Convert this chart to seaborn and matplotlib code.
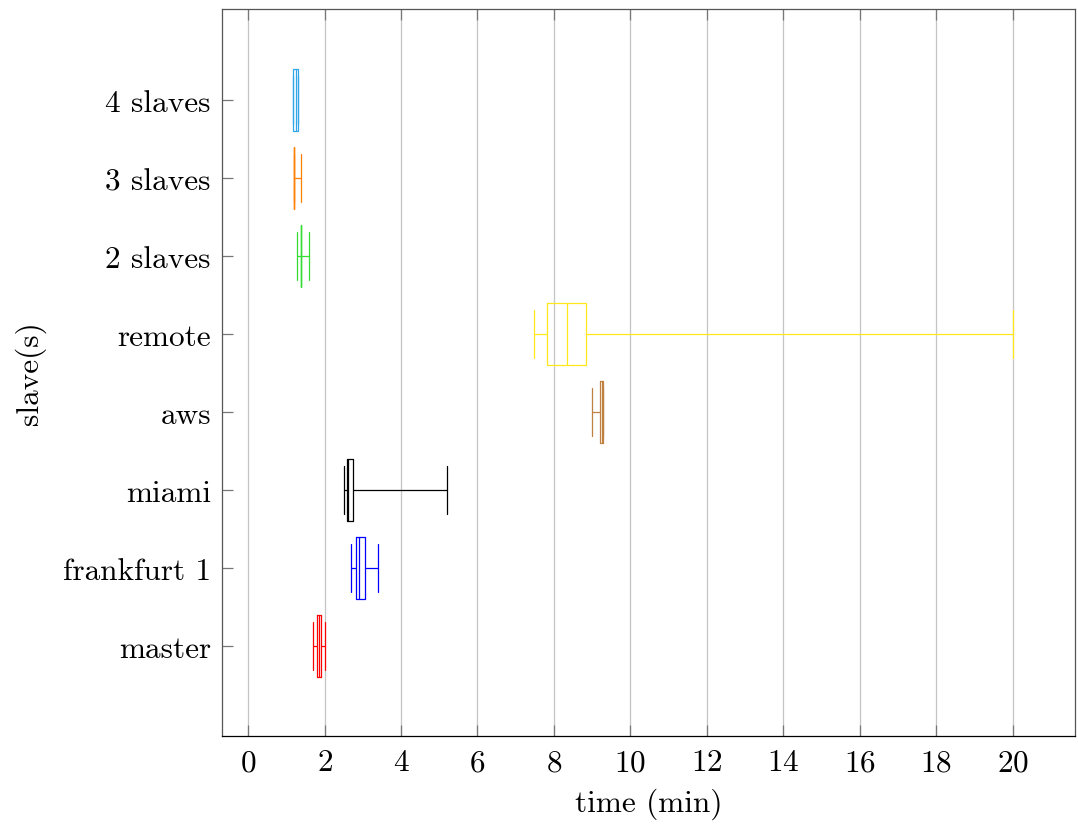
import numpy as np
import pandas as pd
import seaborn as sns
import matplotlib
matplotlib.use("Agg")
import matplotlib.pyplot as plt

# categories (top to bottom)
categories = ["4 slaves", "3 slaves", "2 slaves", "remote", "aws", "miami", "frankfurt 1", "master"]
# five-number summaries: lower whisker, q1, median, q3, upper whisker (minutes)
lower_whisker = [1.18, 1.20, 1.29, 7.49, 8.99, 2.50, 2.70, 1.70]
q1_values     = [1.18, 1.20, 1.39, 7.81, 9.21, 2.59, 2.82, 1.80]
medians       = [1.25, 1.20, 1.39, 8.34, 9.25, 2.62, 2.91, 1.85]
q3_values     = [1.31, 1.20, 1.39, 8.84, 9.29, 2.75, 3.06, 1.90]
upper_whisker = [1.31, 1.39, 1.60, 20.0, 9.29, 5.20, 3.40, 2.00]
colors = ["#33a6e8", "#ff8000", "#33dd33", "#ffe81a", "#c08040", "#000000", "#0000ff", "#ff0000"]
x_ticks = [0, 2, 4, 6, 8, 10, 12, 14, 16, 18, 20]

rows = []
for c, a, b, m, d, e in zip(categories, lower_whisker, q1_values, medians, q3_values, upper_whisker):
    for v in (a, b, m, d, e):
        rows.append({"slave": c, "time": v})
df = pd.DataFrame(rows)

sns.set_style("white")
plt.rcParams["font.family"] = ["serif"]
plt.rcParams["font.serif"] = ["cmr10", "DejaVu Serif"]
plt.rcParams["axes.formatter.use_mathtext"] = True
plt.rcParams["text.color"] = "black"
plt.rcParams["axes.labelcolor"] = "black"
plt.rcParams["xtick.color"] = "black"
plt.rcParams["ytick.color"] = "black"

fig = plt.figure(figsize=(10.78, 8.29), dpi=100)
ax = fig.add_axes([0.206, 0.111, 0.791, 0.877])

sns.boxplot(data=df, x="time", y="slave", hue="slave", order=categories, hue_order=categories,
            palette=dict(zip(categories, colors)), fill=False, whis=(0, 100), width=0.8,
            linewidth=0.9, legend=False, dodge=False, ax=ax, showfliers=False)

# cap lengths similar to reference
for line in ax.lines:
    ys = line.get_ydata()
    xs = line.get_xdata()
    if len(xs) == 2 and np.isclose(xs[0], xs[1]) and not np.isclose(ys[0], ys[1]):
        mid = (ys[0] + ys[1]) / 2
        half = abs(ys[1] - ys[0]) / 2
        if half < 0.39:
            line.set_ydata([mid - 0.31, mid + 0.31])

ax.set_xlim(-0.68, 21.62)
ax.set_ylim(7 + 1.15, -1.17)
ax.set_xticks(x_ticks)
ax.xaxis.grid(True, color="#c4c4c4", linewidth=0.9)
ax.set_axisbelow(True)
ax.tick_params(axis="both", direction="in", length=8, width=0.9, labelsize=22.5,
               color="#777777", labelcolor="black")
ax.tick_params(axis="x", top=True, bottom=True, pad=9)
ax.tick_params(axis="y", left=True, right=False, pad=8)
for name, s in ax.spines.items():
    s.set_color("#555555" if name != "bottom" else "black")
    s.set_linewidth(0.9)
ax.set_xlabel("time (min)", fontsize=22.5, labelpad=8)
ax.set_ylabel("slave(s)", fontsize=22.5, labelpad=12)

fig.savefig("out.png", dpi=100)
